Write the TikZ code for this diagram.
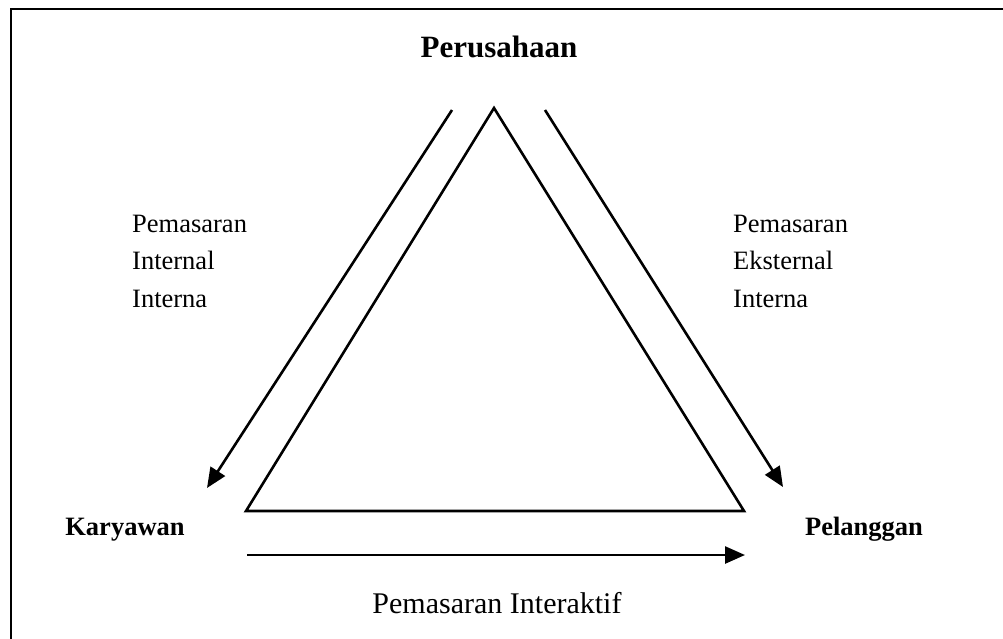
\documentclass[tikz,border=0pt]{standalone}
\usepackage{fontspec}
\setmainfont{Liberation Serif}
\usetikzlibrary{arrows.meta}
\begin{document}
\begin{tikzpicture}[x=1pt,y=-1pt,
  edge/.style={line width=2.6pt},
  arr/.style={line width=2.6pt,-{Triangle[length=20pt,width=17pt]}},
  big/.style={font=\bfseries\fontsize{31}{37}\selectfont,inner sep=0pt},
  corner/.style={font=\bfseries\fontsize{26.5}{37}\selectfont,inner sep=0pt},
  lbl/.style={font=\fontsize{26.5}{37.5}\selectfont,align=left,inner sep=0pt},
  bottomlbl/.style={font=\fontsize{30}{36}\selectfont,inner sep=0pt}]
\useasboundingbox (0,0) rectangle (1003,638);
% frame
\draw[line width=2pt] (11,645) -- (11,9) -- (1010,9);
% triangle
\coordinate (T) at (494,108);
\coordinate (L) at (246,511);
\coordinate (R) at (744,511);
\draw[edge,line join=miter] (T) -- (L) -- (R) -- cycle;
% arrows
\coordinate (a1s) at (452,110);
\coordinate (a1e) at (207,488);
\coordinate (a2s) at (545,110);
\coordinate (a2e) at (783,487);
\coordinate (a3s) at (247,555);
\coordinate (a3e) at (745,555);
\draw[arr] (a1s) -- (a1e);
\draw[arr] (a2s) -- (a2e);
\draw[arr] (a3s) -- (a3e);
% texts
\node[big,anchor=base] (per) at (499,57) {Perusahaan};
\node[corner,anchor=base] (kar) at (125,535) {Karyawan};
\node[corner,anchor=base] (pel) at (864,535) {Pelanggan};
\node[lbl,anchor=base west] (int) at (132,307) {Pemasaran\\Internal\\Interna};
\node[lbl,anchor=base west] (eks) at (733,307) {Pemasaran\\Eksternal\\Interna};
\node[bottomlbl,anchor=base] (inter) at (497,613) {Pemasaran Interaktif};
\end{tikzpicture}
\end{document}
